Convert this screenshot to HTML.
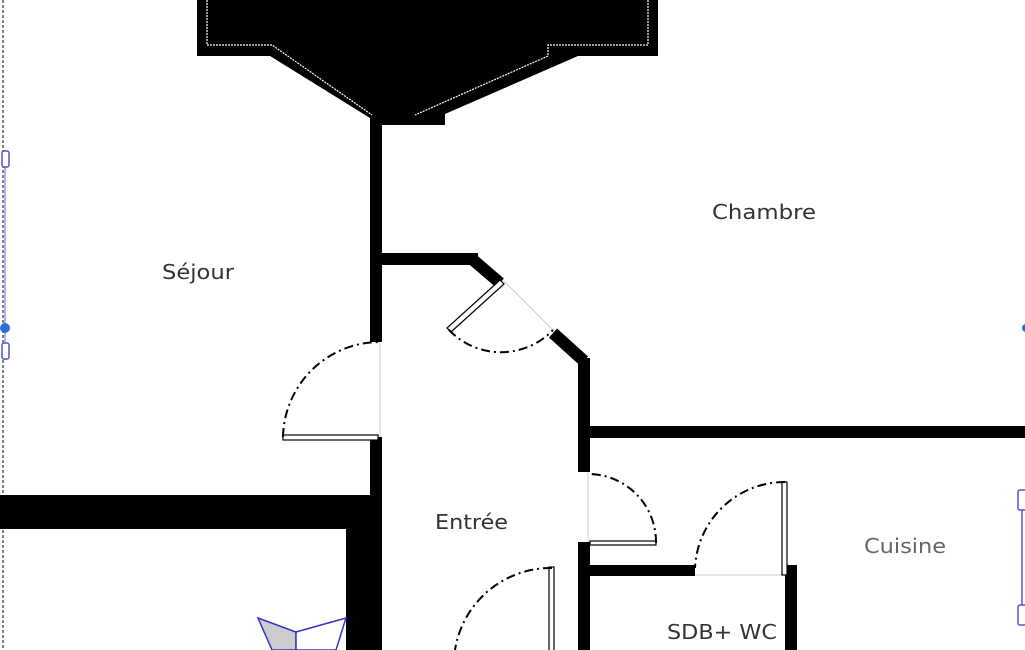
<!DOCTYPE html>
<html><head><meta charset="utf-8"><style>
html,body{margin:0;padding:0;background:#fff;width:1025px;height:650px;overflow:hidden}
svg{display:block}
text{font-family:"DejaVu Sans","Liberation Sans",sans-serif;font-size:20px;fill:#333}
</style></head><body>
<svg width="1025" height="650" viewBox="0 0 1025 650">
<polygon points="197,0 658,0 658,56 578,56 445,114 445,125 382,125 370,118 270,56 197,56" fill="#000"/>
<polyline points="207,0 207,45 272,45 372,115" fill="none" stroke="#fff" stroke-width="1.2" stroke-dasharray="2,1"/>
<polyline points="648,0 648,45 548,45 548,56 415,115" fill="none" stroke="#fff" stroke-width="1.2" stroke-dasharray="2,1"/>
<g fill="#000">
<rect x="370" y="118" width="12" height="224"/>
<rect x="370" y="437" width="12" height="213"/>
<rect x="0" y="495" width="382" height="34"/>
<rect x="346" y="495" width="36" height="155"/>
<rect x="382" y="253" width="96" height="12"/>
<rect x="578" y="358" width="12" height="114"/>
<rect x="578" y="542" width="12" height="108"/>
<rect x="590" y="426" width="435" height="12"/>
<rect x="590" y="565" width="105" height="11"/>
<rect x="785" y="565" width="12" height="85"/>
</g>
<polyline points="472,259 500,283" stroke="#000" stroke-width="12" fill="none"/>
<polyline points="553,333 584,361" stroke="#000" stroke-width="12" fill="none"/>
<g stroke="#ccc" stroke-width="1">
<line x1="380" y1="342" x2="380" y2="437"/>
<line x1="504" y1="281" x2="553" y2="330"/>
<line x1="588" y1="472" x2="588" y2="542"/>
<line x1="695" y1="575" x2="785" y2="575"/>
</g>
<g fill="#fff" stroke="#000" stroke-width="1.2">
<rect x="283" y="435" width="95" height="5"/>
<rect x="590" y="541" width="66" height="4"/>
<rect x="782" y="482" width="5" height="93"/>
<rect x="549" y="567" width="5" height="90"/>
<polygon points="500,280 504,284 451,332 447,328"/>
</g>
<g fill="none" stroke="#000" stroke-width="2" stroke-dasharray="9,4,2,4">
<path d="M283,437 A97,97 0 0 1 380,342"/>
<path d="M449,330 A72,72 0 0 0 553,330"/>
<path d="M656,543 A68,68 0 0 0 590,474"/>
<path d="M785,482 A90,90 0 0 0 695,568"/>
<path d="M552,568 A97,97 0 0 0 455,650"/>
</g>
<text x="162" y="279" textLength="72" lengthAdjust="spacingAndGlyphs">Séjour</text>
<text x="712" y="219" textLength="104" lengthAdjust="spacingAndGlyphs">Chambre</text>
<text x="435" y="529" textLength="73" lengthAdjust="spacingAndGlyphs">Entrée</text>
<text x="864" y="553" textLength="82" lengthAdjust="spacingAndGlyphs" style="fill:#666">Cuisine</text>
<text x="667" y="639" textLength="110" lengthAdjust="spacingAndGlyphs">SDB+ WC</text>
<line x1="3" y1="0" x2="3" y2="650" stroke="#000" stroke-width="1" stroke-dasharray="3,2"/>
<line x1="5" y1="150" x2="5" y2="360" stroke="#66f" stroke-width="1"/>
<g fill="#fff" stroke="#55c" stroke-width="1.5">
<rect x="2" y="151" width="7" height="16" rx="2"/>
<rect x="2" y="343" width="7" height="16" rx="2"/>
<rect x="1018" y="490" width="9" height="20" rx="2"/>
<rect x="1018" y="605" width="9" height="20" rx="2"/>
</g>
<line x1="1022" y1="510" x2="1022" y2="605" stroke="#55c" stroke-width="1.5"/>
<circle cx="5" cy="328" r="5" fill="#2a6fd6"/>
<circle cx="1026" cy="328" r="4" fill="#2a6fd6"/>
<polygon points="258,618 296,632 296,650 272,650" fill="#ccc" stroke="#33c" stroke-width="1.5"/>
<polygon points="296,632 346,618 336,650 296,650" fill="#fff" stroke="#33c" stroke-width="1.5"/>
</svg>
</body></html>
